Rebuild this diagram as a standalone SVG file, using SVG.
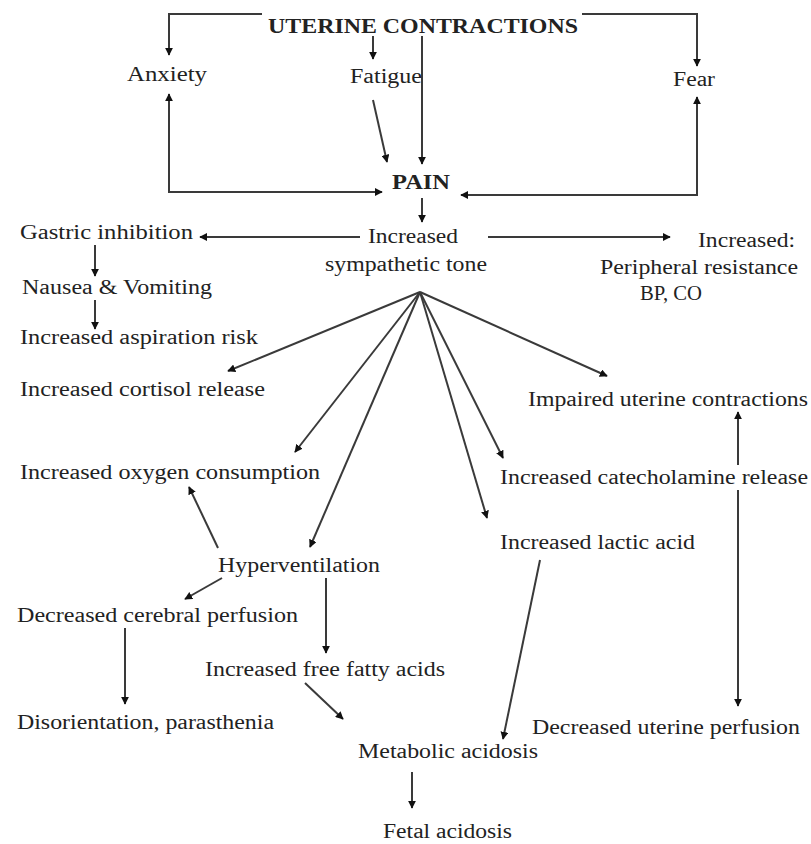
<svg xmlns="http://www.w3.org/2000/svg" width="811" height="844" viewBox="0 0 811 844">
<style>
text{font-family:"Liberation Serif","Times New Roman",serif;font-size:20px;fill:#222;}
.b{font-weight:bold;}
.c line,.c polyline{stroke:#3a3a3a;stroke-width:2;fill:none;}
</style>
<defs>
<marker id="ah" viewBox="0 0 10 10" refX="9" refY="5" markerWidth="8" markerHeight="8" markerUnits="userSpaceOnUse" orient="auto-start-reverse">
<path d="M0,0 L10,5 L0,10 z" fill="#111"/>
</marker>
</defs>
<rect width="811" height="844" fill="#fff"/>
<g class="c" id="connectors">
<polyline points="262,14 169,14 169,55" marker-end="url(#ah)"/>
<polyline points="582,14 697,14 697,66" marker-end="url(#ah)"/>
<line x1="373" y1="36" x2="373" y2="59" marker-end="url(#ah)"/>
<line x1="422" y1="36" x2="422" y2="164" marker-end="url(#ah)"/>
<line x1="373" y1="100" x2="387" y2="162" marker-end="url(#ah)"/>
<polyline points="169,94 169,192 382,192" marker-start="url(#ah)" marker-end="url(#ah)"/>
<polyline points="697,97 697,195 461,195" marker-start="url(#ah)" marker-end="url(#ah)"/>
<line x1="422" y1="198" x2="422" y2="222" marker-end="url(#ah)"/>
<line x1="360" y1="237" x2="200" y2="237" marker-end="url(#ah)"/>
<line x1="488" y1="237" x2="670" y2="237" marker-end="url(#ah)"/>
<line x1="95" y1="245" x2="95" y2="276" marker-end="url(#ah)"/>
<line x1="95" y1="300" x2="95" y2="329" marker-end="url(#ah)"/>
<line x1="420" y1="292" x2="228" y2="371" marker-end="url(#ah)"/>
<line x1="420" y1="292" x2="295" y2="452" marker-end="url(#ah)"/>
<line x1="420" y1="292" x2="310" y2="547" marker-end="url(#ah)"/>
<line x1="420" y1="292" x2="487" y2="518" marker-end="url(#ah)"/>
<line x1="420" y1="292" x2="503" y2="458" marker-end="url(#ah)"/>
<line x1="420" y1="292" x2="607" y2="376" marker-end="url(#ah)"/>
<line x1="218" y1="548" x2="189" y2="487" marker-end="url(#ah)"/>
<line x1="222" y1="578" x2="185" y2="599" marker-end="url(#ah)"/>
<line x1="326" y1="578" x2="326" y2="653" marker-end="url(#ah)"/>
<line x1="125" y1="628" x2="125" y2="704" marker-end="url(#ah)"/>
<line x1="305" y1="683" x2="343" y2="719" marker-end="url(#ah)"/>
<line x1="540" y1="560" x2="503" y2="739" marker-end="url(#ah)"/>
<line x1="412" y1="772" x2="412" y2="808" marker-end="url(#ah)"/>
<line x1="738" y1="465" x2="738" y2="412" marker-end="url(#ah)"/>
<line x1="738" y1="490" x2="738" y2="706" marker-end="url(#ah)"/>
</g>
<g id="uterine"><text class="b" x="268" y="33" textLength="310" lengthAdjust="spacingAndGlyphs">UTERINE CONTRACTIONS</text></g>
<g id="anxiety"><text x="127" y="81" textLength="80" lengthAdjust="spacingAndGlyphs">Anxiety</text></g>
<g id="fatigue"><text x="350" y="83" textLength="72" lengthAdjust="spacingAndGlyphs">Fatigue</text></g>
<g id="fear"><text x="673" y="86" textLength="42" lengthAdjust="spacingAndGlyphs">Fear</text></g>
<g id="pain"><text class="b" x="392" y="189" textLength="58" lengthAdjust="spacingAndGlyphs">PAIN</text></g>
<g id="sympathetic"><text x="368" y="243" textLength="90" lengthAdjust="spacingAndGlyphs">Increased</text><text x="325" y="271" textLength="162" lengthAdjust="spacingAndGlyphs">sympathetic tone</text></g>
<g id="gastric"><text x="20" y="239" textLength="173" lengthAdjust="spacingAndGlyphs">Gastric inhibition</text></g>
<g id="nausea"><text x="22" y="294" textLength="190" lengthAdjust="spacingAndGlyphs">Nausea &amp; Vomiting</text></g>
<g id="aspiration"><text x="20" y="344" textLength="238" lengthAdjust="spacingAndGlyphs">Increased aspiration risk</text></g>
<g id="cortisol"><text x="20" y="396" textLength="245" lengthAdjust="spacingAndGlyphs">Increased cortisol release</text></g>
<g id="peripheral"><text x="698" y="247" textLength="97" lengthAdjust="spacingAndGlyphs">Increased:</text><text x="600" y="274" textLength="198" lengthAdjust="spacingAndGlyphs">Peripheral resistance</text><text x="640" y="300" textLength="62" lengthAdjust="spacingAndGlyphs">BP, CO</text></g>
<g id="impaired"><text x="528" y="406" textLength="280" lengthAdjust="spacingAndGlyphs">Impaired uterine contractions</text></g>
<g id="oxygen"><text x="20" y="479" textLength="300" lengthAdjust="spacingAndGlyphs">Increased oxygen consumption</text></g>
<g id="catecholamine"><text x="500" y="484" textLength="308" lengthAdjust="spacingAndGlyphs">Increased catecholamine release</text></g>
<g id="lactic"><text x="500" y="549" textLength="195" lengthAdjust="spacingAndGlyphs">Increased lactic acid</text></g>
<g id="hyper"><text x="218" y="572" textLength="162" lengthAdjust="spacingAndGlyphs">Hyperventilation</text></g>
<g id="cerebral"><text x="17" y="622" textLength="281" lengthAdjust="spacingAndGlyphs">Decreased cerebral perfusion</text></g>
<g id="fatty"><text x="205" y="676" textLength="240" lengthAdjust="spacingAndGlyphs">Increased free fatty acids</text></g>
<g id="disorientation"><text x="17" y="729" textLength="257" lengthAdjust="spacingAndGlyphs">Disorientation, parasthenia</text></g>
<g id="uterineperf"><text x="532" y="734" textLength="268" lengthAdjust="spacingAndGlyphs">Decreased uterine perfusion</text></g>
<g id="metabolic"><text x="358" y="758" textLength="180" lengthAdjust="spacingAndGlyphs">Metabolic acidosis</text></g>
<g id="fetal"><text x="383" y="838" textLength="129" lengthAdjust="spacingAndGlyphs">Fetal acidosis</text></g>
</svg>
